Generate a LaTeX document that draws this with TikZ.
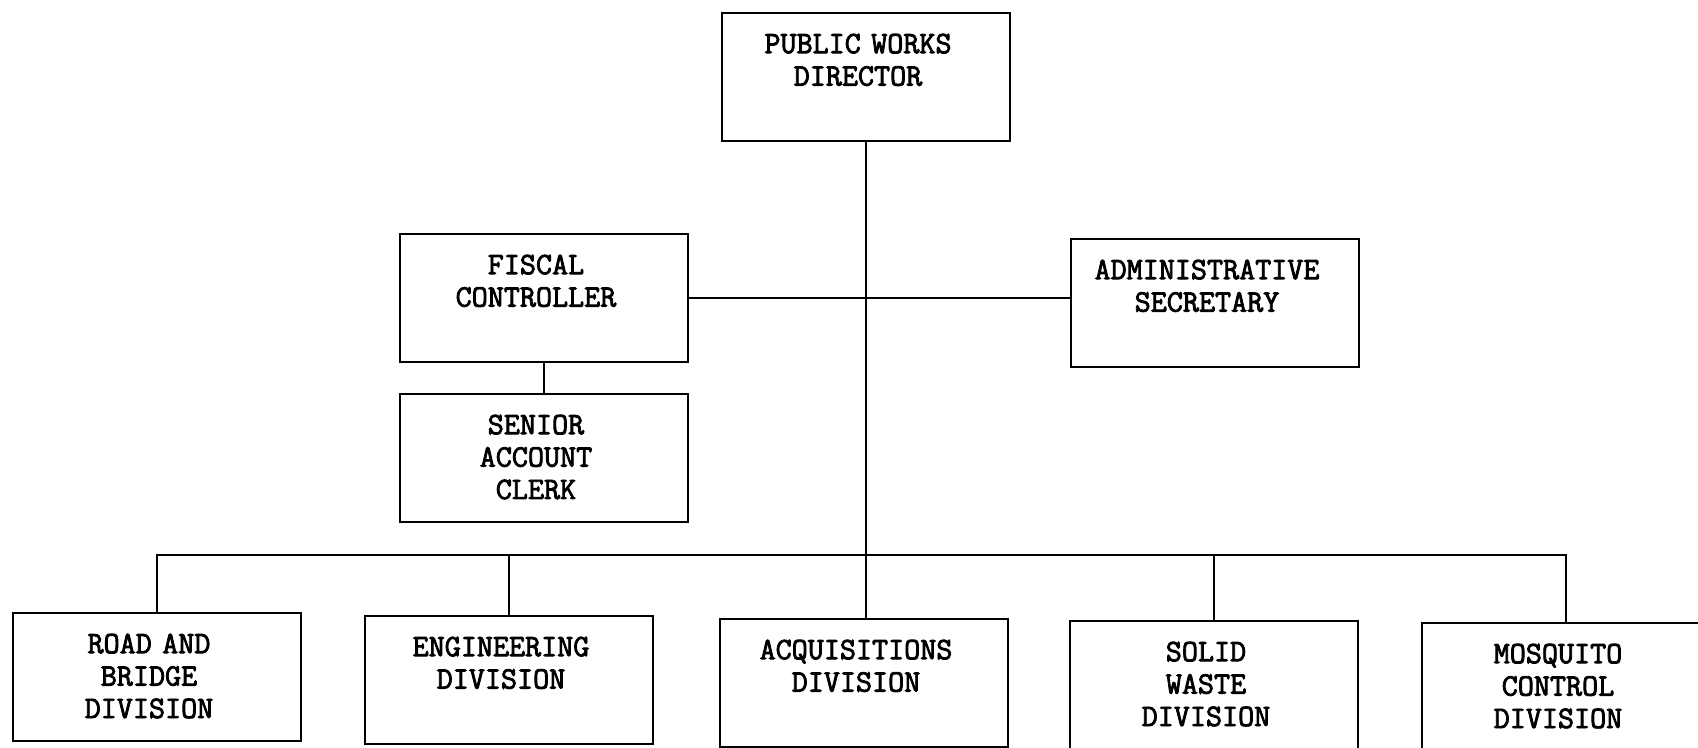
\documentclass[tikz,border=0pt]{standalone}
\usepackage{fontspec}
\newfontfamily\typew{Latin Modern Mono}[FakeBold=2.6]
\usepackage{tikz}
\usetikzlibrary{positioning}

\begin{document}
\begin{tikzpicture}[
  x=0.5pt, y=-0.5pt,
  line width=1.2pt,
  unit/.style={draw, anchor=north, inner sep=0pt, text width=144pt, align=center,
    text height=20pt, text depth=44pt,
    execute at begin node={\leftskip=0pt plus 1fil\rightskip=8pt plus 1fil\parfillskip=0pt},
    font=\fontsize{15.6}{16.2}\selectfont\typew},
  link/.style={draw, line width=1.1pt}
]
\useasboundingbox (0,0) rectangle (1698,748);
% head and staff
\node[unit] (dir) at (866,12) {PUBLIC WORKS\\DIRECTOR};
\node[unit] (fisc) at (544,233) {FISCAL\\CONTROLLER};
\node[unit] (adm) at (1215,238) {ADMINISTRATIVE\\SECRETARY};
\node[unit] (sen) at (544,393) {SENIOR\\ACCOUNT\\CLERK};
% divisions
\node[unit] (road) at (157,612) {ROAD AND\\BRIDGE\\DIVISION};
\node[unit] (eng) at (509,615) {ENGINEERING\\DIVISION};
\node[unit] (acq) at (864,618) {ACQUISITIONS\\DIVISION};
\node[unit] (solid) at (1214,620) {SOLID\\WASTE\\DIVISION};
\node[unit] (mosq) at (1566,622) {MOSQUITO\\CONTROL\\DIVISION};
\coordinate (bus) at (866,555);
% lines
\draw[link] (dir.south) -- (dir.south |- acq.north);
\draw[link] (fisc.east) -- (fisc.east -| adm.west);
\draw[link] (fisc.south) -- (sen.north);
\draw[link] (road.north) |- (mosq.north |- bus) -- (mosq.north);
\draw[link] (eng.north) -- (eng.north |- bus);
\draw[link] (solid.north) -- (solid.north |- bus);
\end{tikzpicture}
\end{document}
